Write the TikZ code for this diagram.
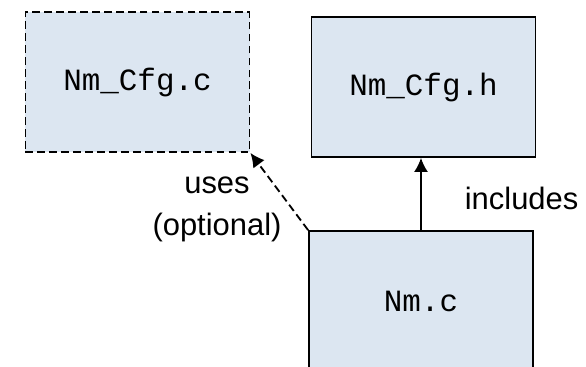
\documentclass[tikz,border=0pt]{standalone}
\usepackage{fontspec}
\setmainfont{Liberation Sans}
\setmonofont{Liberation Mono}
\usetikzlibrary{arrows.meta}
\definecolor{boxfill}{RGB}{220,230,241}

\begin{document}
\begin{tikzpicture}[
    file/.style={draw, fill=boxfill, line width=1.3pt, minimum width=5.6cm, minimum height=3.5cm,
        font=\ttfamily\fontsize{22}{26}\selectfont},
    lbl/.style={font=\fontsize{22}{30}\selectfont, align=center},
    arr/.style={line width=1.3pt, -{Latex[length=10pt,width=10pt]}}]
    \useasboundingbox (0,0) rectangle (14.65,9.175);

    % Dateien
    \node[file, dash pattern=on 5.5pt off 3pt] (cfgc) at (3.4375,7.125) {Nm\_Cfg.c};
    \node[file] (cfgh) at (10.5875,7.0) {Nm\_Cfg.h};
    \node[file] (nmc) at (10.525,1.65) {Nm.c};

    % Pfeile
    \draw[arr] (nmc.north) -- (nmc.north |- cfgh.south);
    \draw[arr, dash pattern=on 5.5pt off 3pt] (nmc.north west) -- (cfgc.south east);

    % Beschriftung
    \node[lbl] (incl) at (13.04,4.225) {includes};
    \node[lbl] (uses) at (5.425,3.95) {uses\\(optional)};
\end{tikzpicture}
\end{document}
